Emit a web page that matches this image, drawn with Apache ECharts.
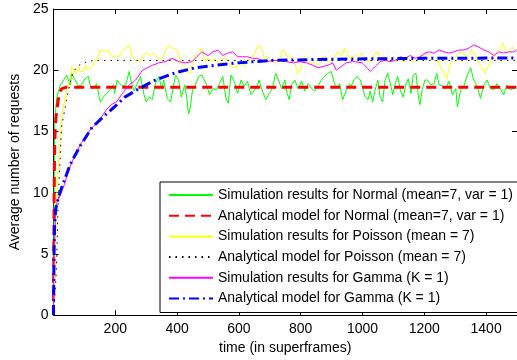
<!DOCTYPE html>
<html>
<head>
<meta charset="utf-8">
<script src="https://cdn.jsdelivr.net/npm/echarts@6/dist/echarts.min.js"></script>
<style>html,body{margin:0;padding:0;background:#fff;}#c{width:517px;height:360px;}</style>
</head>
<body>
<div id="c"></div>
<script>
// ---- data ----
const xTicks = [0, 200, 400, 600, 800, 1000, 1200, 1400];
const yTicks = [0, 5, 10, 15, 20, 25];
const seriesNames = [
  'Simulation results for Normal (mean=7, var = 1)',
  'Analytical model for Normal (mean=7, var = 1)',
  'Simulation results for Poisson (mean = 7)',
  'Analytical model for Poisson (mean = 7)',
  'Simulation results for Gamma (K = 1)',
  'Analytical model for Gamma (K = 1)'
];

const normSimX = [0,1,2,3,4,6,11,22,33,43,49,54,59,70,81,91,102,113,118,129,140,148,152,161,172,182,193,198,206,215,225,
  234,245,250,261,271,282,293,300,309,320,330,341,350,357,368,379,384,395,405,414,425,432,437,443,450,459,470,480,
  494,505,516,526,537,548,558,566,574,585,596,607,617,628,639,649,660,665,676,687,698,708,719,
  728,738,749,756,763,770,781,792,803,813,824,835,845,856,867,877,888,899,906,915,926,936,947,958,
  964,972,982,993,1001,1009,1018,1025,1033,1041,1050,1057,1065,1073,1082,1090,1098,1106,1114,1122,1132,1140,1148,1157,1164,1173,1181,1186,1193,1202,
  1210,1221,1232,1240,1248,1259,1269,1280,1291,1302,1307,1318,1328,1339,1350,1360,1371,1382,1393,1403,1414,1425,1435,1446,1457,1467,1478,1489,1499];
const normSimY = [0,4,9,13,15.5,16.5,17.8,18.8,19.2,19.6,19.75,18.8,19.75,19.2,18.7,18.8,19.3,19.5,18.8,18.5,18.9,17.8,17.4,17.8,18.1,18.4,18.8,18.1,19.2,18.9,18.7,
  18.8,19.9,19.2,18.3,18.9,19.5,18.0,17.4,17.8,17.6,18.9,19.5,18.5,19.2,17.7,17.4,18.1,19.6,19.2,17.8,18.8,17.6,16.4,17.0,18.4,18.8,19.5,19.6,
  18.9,18.0,18.5,18.4,18.9,19.5,17.7,17.3,19.6,19.1,18.1,19.2,18.7,19.1,18.0,18.3,18.8,19.2,18.3,17.6,18.1,18.5,19.75,
  19.2,18.5,19.2,18.1,17.6,18.8,19.2,18.5,19.1,18.3,18.9,18.5,18.3,18.7,19.2,19.5,19.75,19.9,19.2,18.5,18.9,17.6,18.3,18.9,
  18.7,19.2,19.5,19.2,18.5,17.8,17.6,18.3,17.4,18.4,19.2,17.8,17.4,19.2,19.75,18.9,18.0,18.9,19.5,18.4,17.8,18.8,19.3,18.1,19.6,19.75,17.8,17.2,18.4,19.2,
  19.2,18.8,18.9,19.75,18.8,18.7,18.5,19.1,18.0,18.5,17.0,18.4,18.7,19.6,20.2,19.2,18.7,17.7,18.8,19.2,18.5,18.4,18.9,18.5,18.0,18.8,18.4,18.5,18.7];

const normAnaX = [0,1,2,3,4,6,10,15,20,27,40,1500];
const normAnaY = [0,5,9,12,14,15.5,16.6,17.5,18.2,18.5,18.6,18.6];

const poisSimX = [0,3,6,9,18,27,38,49,54,59,65,73,81,86,97,102,113,124,134,145,150,161,172,180,188,193,204,212,220,
  234,245,255,264,271,282,293,304,314,325,336,346,357,366,373,384,395,403,411,421,432,443,450,459,470,480,
  489,500,510,521,532,542,553,564,574,585,596,607,617,628,639,649,658,665,673,682,692,703,714,
  722,733,741,749,756,765,774,781,789,797,806,813,824,835,845,856,867,877,888,899,910,920,931,942,949,958,
  966,977,988,999,1009,1020,1031,1041,1050,1057,1068,1079,1090,1100,1111,1122,1132,1143,1154,1164,1175,1186,1197,
  1210,1221,1232,1243,1253,1264,1273,1280,1291,1302,1312,1323,1334,1344,1355,1366,1376,1387,1396,1405,1414,1425,1435,1446,1455,1462,1473,1484,1494];
const poisSimY = [0,2.5,6,9.2,13,16.3,17.8,18.9,19.3,20.3,20.4,19.75,20.3,19.9,19.9,20.4,20.0,20.3,20.7,21.1,21.65,21.6,21.65,21.5,21.1,20.97,21.2,21.1,21.5,
  21.8,22.06,21.1,20.8,20.8,20.8,21.3,21.4,21.2,21.4,21.1,20.8,21.2,21.8,22.06,21.8,21.65,21.5,20.6,20.3,19.9,19.75,20.6,21.2,21.5,21.8,
  20.8,20.97,20.7,20.97,20.6,20.6,21.1,20.8,20.3,20.2,20.3,20.6,20.3,20.8,21.1,21.2,21.8,22.06,21.9,20.97,21.1,20.8,20.7,
  20.6,20.97,21.65,21.5,21.1,21.2,20.8,20.6,19.75,19.9,20.7,21.1,20.7,20.6,20.7,20.4,20.7,21.2,20.8,20.6,21.1,21.5,21.2,21.8,21.4,20.97,
  21.1,21.2,21.1,21.4,20.97,20.7,20.8,21.4,21.5,20.8,21.2,20.8,20.7,21.1,20.8,20.97,20.7,21.1,20.8,20.7,20.8,20.97,21.2,
  21.4,21.1,20.8,20.8,20.3,19.75,19.3,20.2,20.8,21.1,21.4,21.5,21.1,21.2,21.65,21.2,20.6,20.2,19.75,20.2,20.7,20.97,21.4,21.8,22.2,21.65,21.4,21.9,21.65];

const poisAnaX = [0,8,11,14,17,19,22,24,27,33,38,43,49,59,75,97,129,1500];
const poisAnaY = [0,3,5,8.3,10.1,11.6,13,14.3,15.5,16.3,17.0,17.7,18.4,19.5,20.3,20.6,20.8,20.8];

const gammaSimX = [0,1,2.7,5.9,11,22,33,43,54,65,75,86,97,107,118,129,140,156,172,188,204,220,
  245,266,288,304,320,341,362,384,405,427,448,464,480,
  500,516,532,548,564,580,596,612,628,644,660,676,692,708,
  733,754,776,797,819,840,856,872,888,904,915,931,947,968,
  977,999,1015,1025,1041,1057,1073,1090,1106,1122,1138,1154,1170,1186,1202,
  1216,1232,1248,1264,1280,1296,1312,1328,1344,1360,1376,1393,1409,1425,1441,1457,1473,1489,1499];
const gammaSimY = [0,3,5.1,7.8,9.2,9.8,10.5,11.3,12.15,12.8,13.2,13.9,14.3,14.7,15.1,15.4,15.7,16.2,16.8,17.2,17.4,18.0,
  18.8,19.2,20.0,20.2,20.4,20.6,20.7,20.97,20.7,20.6,20.7,21.1,21.5,
  21.2,21.5,21.65,21.2,21.4,21.5,21.1,21.1,21.1,20.97,20.97,20.8,20.7,20.8,
  20.8,20.7,20.6,20.7,20.6,20.4,20.2,20.3,20.4,20.6,20.0,20.3,20.6,20.7,
  20.7,20.6,20.2,19.9,20.3,20.7,20.8,20.7,20.8,21.1,20.97,21.2,20.97,21.1,21.4,
  21.5,21.4,21.65,21.5,21.4,21.5,21.65,21.65,21.8,22.06,21.9,21.65,21.5,21.2,21.5,21.4,21.5,21.5,21.65];

const gammaAnaX = [0,1,2,4,7,11,22,54,86,124,161,193,231,277,330,395,459,521,596,703,900,1200,1500];
const gammaAnaY = [0,3,5.5,7.5,8.6,9.1,10.1,12.3,13.8,15.3,16.2,16.9,17.8,18.5,19.2,19.8,20.2,20.4,20.6,20.8,20.9,20.97,21.0];

// ---- chart ----
function pairs(xs, ys) { return xs.map((x, i) => [x, ys[i]]); }
const FONT = '"Liberation Sans", Arial, Helvetica, sans-serif';
const chart = echarts.init(document.getElementById('c'), null, {renderer: 'canvas'});

const baseX = {
  type: 'value', min: 0, max: 1500, interval: 200,
  axisLine: {show: true, onZero: false, lineStyle: {color: '#000', width: 1}},
  axisTick: {show: true, inside: true, length: 5, lineStyle: {color: '#000'}},
  splitLine: {show: false}
};
const baseY = {
  type: 'value', min: 0, max: 25, interval: 5,
  axisLine: {show: true, onZero: false, lineStyle: {color: '#000', width: 1}},
  axisTick: {show: true, inside: true, length: 5, lineStyle: {color: '#000'}},
  splitLine: {show: false}
};

function mk(name, xs, ys, color, width, type) {
  return {
    name: name, type: 'line', xAxisIndex: 0, yAxisIndex: 0,
    data: pairs(xs, ys), showSymbol: false, symbol: 'none',
    lineStyle: {color: color, width: width, type: type},
    itemStyle: {color: color},
    emphasis: {disabled: true}, silent: true
  };
}

chart.setOption({
  animation: false,
  backgroundColor: '#fff',
  textStyle: {fontFamily: FONT},
  grid: {left: 50, right: -1, top: 9, bottom: 44},
  xAxis: [
    Object.assign({}, baseX, {
      position: 'bottom',
      name: 'time (in superframes)', nameLocation: 'middle', nameGap: 24,
      nameTextStyle: {color: '#000', fontSize: 14, fontFamily: FONT},
      axisLabel: {color: '#000', fontSize: 14, fontFamily: FONT, margin: 7,
        showMaxLabel: false,
        formatter: v => (v === 0 || xTicks.indexOf(v) < 0) ? '' : String(v)}
    }),
    Object.assign({}, baseX, {position: 'top', axisLabel: {show: false}})
  ],
  yAxis: [
    Object.assign({}, baseY, {
      position: 'left',
      name: 'Average number of requests', nameLocation: 'middle', nameGap: 24,
      nameTextStyle: {color: '#000', fontSize: 14, fontFamily: FONT},
      axisLabel: {color: '#000', fontSize: 14, fontFamily: FONT, margin: 5,
        formatter: v => yTicks.indexOf(v) < 0 ? '' : String(v)}
    }),
    Object.assign({}, baseY, {position: 'right', axisLabel: {show: false}})
  ],
  legend: {
    orient: 'vertical', left: 160, top: 182,
    padding: [6, 12, 7, 8],
    itemWidth: 44, itemHeight: 14, itemGap: 6.7,
    backgroundColor: '#fff', borderColor: '#000', borderWidth: 1, borderRadius: 0,
    selectedMode: false,
    itemStyle: {opacity: 0, borderWidth: 0},
    textStyle: {color: '#000', fontSize: 14, fontFamily: FONT},
    data: seriesNames
  },
  series: [
    mk(seriesNames[0], normSimX, normSimY, '#00ff00', 1, 'solid'),
    mk(seriesNames[1], normAnaX, normAnaY, '#ff0000', 3, [10, 6]),
    mk(seriesNames[2], poisSimX, poisSimY, '#ffff00', 1, 'solid'),
    mk(seriesNames[3], poisAnaX, poisAnaY, '#000000', 1, [1.5, 5]),
    mk(seriesNames[4], gammaSimX, gammaSimY, '#ff00ff', 1, 'solid'),
    mk(seriesNames[5], gammaAnaX, gammaAnaY, '#0000ff', 3, [10, 4, 2, 4])
  ]
});
</script>
</body>
</html>
